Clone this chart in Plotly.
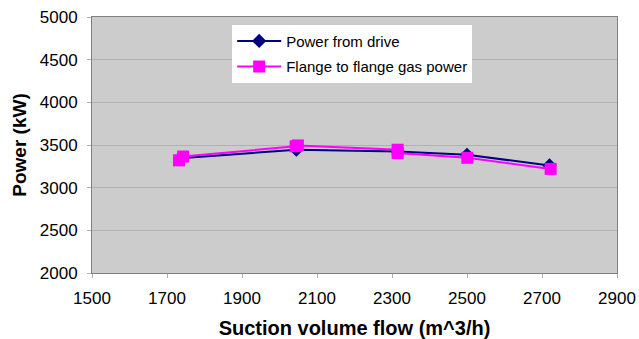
import plotly.graph_objects as go

# Suction volume flow (m^3/h) and power (kW) per series
drive_flow = [1735, 2045, 2315, 2500, 2720]
drive_power = [3345, 3445, 3425, 3385, 3260]

gas_flow = [1732, 1743, 2043, 2049, 2315, 2315, 2501, 2723]
gas_power = [3320, 3365, 3485, 3495, 3445, 3405, 3350, 3220]

x_ticks = [1500, 1700, 1900, 2100, 2300, 2500, 2700, 2900]
y_ticks = [2000, 2500, 3000, 3500, 4000, 4500, 5000]

FONT = "Liberation Sans, Arial"

fig = go.Figure()
fig.add_trace(go.Scatter(
    x=drive_flow, y=drive_power, mode="lines+markers", name="Power from drive",
    legendgroup="drive",
    line=dict(color="#000080", width=2),
    marker=dict(symbol="diamond", size=11, color="#000080"),
))
fig.add_trace(go.Scatter(
    x=gas_flow, y=gas_power, mode="lines+markers", name="Flange to flange gas power",
    legendgroup="gas",
    line=dict(color="#ff00ff", width=2),
    marker=dict(symbol="square", size=12, color="#ff00ff"),
))

axis_common = dict(
    showline=True, linecolor="#808080", linewidth=1, mirror=True,
    ticks="outside", ticklen=4, tickcolor="#b0b0b0",
    tickfont=dict(family=FONT, size=17, color="black"),
    zeroline=False, automargin=False,
)

fig.update_layout(
    width=639, height=339,
    margin=dict(l=92, r=22, t=17, b=66),
    paper_bgcolor="white", plot_bgcolor="#cccccc",
    font=dict(family=FONT, color="black"),
    xaxis=dict(
        range=[1500, 2900], tickvals=x_ticks, showgrid=False,
        ticklabelstandoff=6,
        title=dict(text="<b>Suction volume flow (m^3/h)</b>",
                   font=dict(family=FONT, size=20), standoff=16),
        **axis_common,
    ),
    yaxis=dict(
        range=[2000, 5000], tickvals=y_ticks,
        showgrid=True, gridcolor="#b0b0b0", gridwidth=1,
        ticklabelstandoff=6,
        title=dict(text="<b>Power (kW)</b>", font=dict(family=FONT, size=19), standoff=8),
        **axis_common,
    ),
    legend=dict(
        x=0.267, y=0.97, xanchor="left", yanchor="top",
        bgcolor="white", borderwidth=0,
        font=dict(family=FONT, size=15, color="black"),
        itemwidth=44, tracegroupgap=3,
    ),
    showlegend=True,
)

fig.write_html("out.html")
